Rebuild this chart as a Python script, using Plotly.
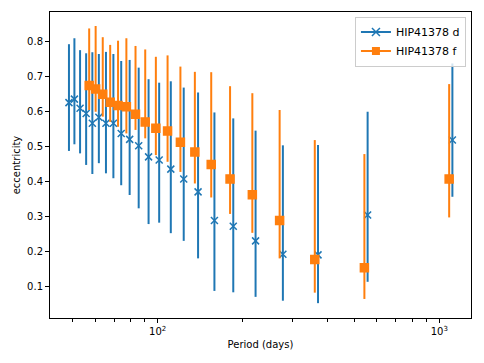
import plotly.graph_objects as go

# HIP41378 d - period aliases (days) and eccentricity with asymmetric errors
period_d = [48.4, 50.6, 53.0, 55.7, 58.6, 61.8, 65.5, 69.6, 74.2, 79.5, 85.6, 92.8,
            101.2, 111.3, 123.7, 139.1, 159.0, 185.5, 222.6, 278.3, 371.0, 556.5, 1113.0]
ecc_d = [0.626, 0.636, 0.610, 0.595, 0.567, 0.584, 0.567, 0.567, 0.538, 0.521, 0.503, 0.471,
         0.462, 0.436, 0.408, 0.371, 0.289, 0.273, 0.231, 0.193, 0.191, 0.305, 0.519]
ecc_d_hi = [0.793, 0.810, 0.776, 0.767, 0.770, 0.765, 0.771, 0.765, 0.745, 0.748, 0.726, 0.693,
            0.683, 0.687, 0.669, 0.655, 0.598, 0.581, 0.546, 0.504, 0.505, 0.600, 0.738]
ecc_d_lo = [0.488, 0.507, 0.481, 0.448, 0.422, 0.453, 0.424, 0.410, 0.390, 0.362, 0.324, 0.279,
            0.283, 0.253, 0.231, 0.181, 0.088, 0.084, 0.071, 0.060, 0.053, 0.114, 0.357]

# HIP41378 f
period_f = [57.1, 60.2, 63.8, 67.8, 72.3, 77.4, 83.4, 90.3, 98.5, 108.4, 120.4, 135.5,
            154.9, 180.7, 216.8, 271.0, 361.3, 542.0, 1084.0]
ecc_f = [0.675, 0.665, 0.650, 0.627, 0.618, 0.614, 0.593, 0.571, 0.553, 0.545, 0.513, 0.485,
         0.449, 0.408, 0.363, 0.289, 0.178, 0.154, 0.408]
ecc_f_hi = [0.838, 0.845, 0.813, 0.791, 0.803, 0.810, 0.788, 0.778, 0.757, 0.761, 0.729, 0.714,
            0.713, 0.673, 0.653, 0.605, 0.519, 0.479, 0.679]
ecc_f_lo = [0.605, 0.600, 0.586, 0.571, 0.557, 0.538, 0.548, 0.524, 0.476, 0.457, 0.428, 0.395,
            0.355, 0.308, 0.254, 0.181, 0.083, 0.065, 0.298]

x_ticks = [100, 1000]
x_ticklabels = ["10<sup>2</sup>", "10<sup>3</sup>"]
x_minor = [50, 60, 70, 80, 90, 200, 300, 400, 500, 600, 700, 800, 900]

BLUE = "#1f77b4"
ORANGE = "#ff7f0e"


def err_trace(x, y, hi, lo, color, symbol, size, name):
    return go.Scatter(
        x=x, y=y, mode="markers", name=name, showlegend=False,
        marker=dict(color=color, symbol=symbol, size=size,
                    line=dict(color=color, width=1.5)),
        error_y=dict(type="data", symmetric=False,
                     array=[h - v for h, v in zip(hi, y)],
                     arrayminus=[v - l for v, l in zip(y, lo)],
                     color=color, thickness=2, width=0))


fig = go.Figure()
fig.add_trace(err_trace(period_d, ecc_d, ecc_d_hi, ecc_d_lo, BLUE, "x-thin", 7, "HIP41378 d"))
fig.add_trace(err_trace(period_f, ecc_f, ecc_f_hi, ecc_f_lo, ORANGE, "square", 8, "HIP41378 f"))

# legend entries styled like matplotlib errorbar handles
fig.add_trace(go.Scatter(x=[None], y=[None], mode="lines+markers", name="HIP41378 d",
                         line=dict(color=BLUE, width=2),
                         marker=dict(color=BLUE, symbol="x-thin", size=8,
                                     line=dict(color=BLUE, width=1.5))))
fig.add_trace(go.Scatter(x=[None], y=[None], mode="lines+markers", name="HIP41378 f",
                         line=dict(color=ORANGE, width=2),
                         marker=dict(color=ORANGE, symbol="square", size=8)))

axis_common = dict(showline=True, linecolor="black", linewidth=1, mirror=True,
                   ticks="outside", ticklen=4, tickcolor="black", showgrid=False,
                   zeroline=False, automargin=False, tickfont=dict(size=10, color="black"))

fig.update_xaxes(type="log", range=[1.6175, 3.1126],
                 tickmode="array", tickvals=x_ticks, ticktext=x_ticklabels,
                 title=dict(text="Period (days)", font=dict(size=10, color="black"), standoff=4),
                 minor=dict(ticks="outside", ticklen=3, tickcolor="black",
                            tickmode="array", tickvals=x_minor, showgrid=False),
                 **axis_common)
fig.update_yaxes(range=[0.0106, 0.885], dtick=0.1, tickformat=".1f",
                 title=dict(text="eccentricity", font=dict(size=10, color="black"), standoff=4),
                 **axis_common)

fig.update_layout(
    template="none",
    width=484, height=363,
    margin=dict(l=50, r=13, t=12, b=45, autoexpand=False),
    plot_bgcolor="white", paper_bgcolor="white",
    font=dict(family="DejaVu Sans", size=10, color="black"),
    legend=dict(x=0.988, y=0.985, xanchor="right", yanchor="top",
                bgcolor="rgba(255,255,255,0.8)", bordercolor="#cccccc", borderwidth=1,
                font=dict(size=11), tracegroupgap=0, itemwidth=30),
)

# drop the default 8px page margin so the figure sits at the window's corner
fig.write_html("out.html", config={"displayModeBar": False},
               post_script="document.body.style.margin='0';")
